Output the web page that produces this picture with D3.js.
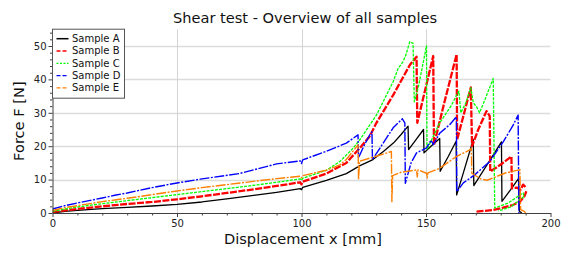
<!DOCTYPE html>
<html>
<head>
<meta charset="utf-8">
<script src="https://cdn.jsdelivr.net/npm/d3@7"></script>
<style>
  body { margin: 0; background: #fff; }
  svg { display: block; font-family: "DejaVu Sans", sans-serif; }
</style>
</head>
<body>
<div id="chart"></div>
<script>
// Data: [displacement mm, force N], null = gap
const sampleA = [
  [0,0],[5,0.5],[10,0.8],[20,1.3],[30,1.7],[40,2.1],[50,2.6],[60,3.3],[70,4.2],[80,5.2],[90,6.2],
  [99.5,7.3],[100,7.0],[100.5,7.7],[110,9.8],[118,11.8],[123.5,14.2],[128.7,16],[133,18.5],[137,21],
  [140,23.5],[142.8,26],[143,19],[146,22],[149,25],[149.2,18],[152,20],[155.5,22.3],[155.7,12.5],
  [159,17],[162.1,21.5],[162.3,5.4],[165,12],[169,22],[169.2,8.2],[175,15],[180.3,21.3],[180.5,3.5],
  [184,7],[187.2,10.4],[187.5,0.5],[188.5,0]
];
const sampleB = [
  [0,0.3],[5,0.8],[10,1.2],[20,2],[30,2.7],[40,3.3],[50,4.1],[60,5],[70,6],[80,7],[90,8.1],
  [99.5,9.2],[100,8.6],[100.5,9.4],[110,11.8],[118,15],[123.5,19.5],[127.4,23],[130.1,27],[136.8,35.3],
  [143.5,44.3],[146.2,46.8],[146.5,27],[152.9,47],[153.2,20.4],[157,32],[162.3,47.5],[162.5,22],
  [165,29],[168,37.6],[168.5,20],[171,25],[174.3,30.5],[175.6,29],[175.8,12.4],[180,14.5],[184.3,16.9],
  [184.5,7.4],[186.5,7.6],[188,7],[189,8.5],[190.3,7.5],
  null,
  [170.3,0.4],[176.9,0.9],[181,1.6],[184.9,2.4],[187.7,3.4],[189.5,5],[190.3,6.5]
];
const sampleC = [
  [0,0.5],[5,1.2],[10,1.8],[20,2.8],[30,3.7],[40,4.6],[50,5.5],[60,6.4],[70,7.3],[80,8.2],[90,9.2],
  [99.5,10.2],[100,9.8],[100.5,10.4],[110,12.8],[115.4,15.4],[120.7,19.4],[123.5,22],[130.1,29.3],
  [136.8,39.3],[138.8,43.3],[140.8,45.3],[142,47.5],[143.5,51.3],[144.8,50.8],[145.3,33.3],[147,38],
  [150.2,50],[150.4,19],[155.5,27],[160,32],[163.2,36.5],[164,30],[166,33],[168,37.5],[169,33],
  [170.3,31.8],[171.5,30],[173.6,33.8],[177,40.3],[177.6,1.5],[183,3],[189,6],[189.5,5],[184,1.8],[179,0.6]
];
const sampleD = [
  [0,1.2],[5,2.2],[10,3],[20,4.5],[25,5.3],[30,6],[40,7.6],[50,9],[60,10.2],[75,11.8],[90,14.7],
  [99.5,15.6],[100,14.8],[100.5,15.9],[110,18.5],[118,20.9],[122.7,23.4],[122.9,16.5],[125,20],
  [127.5,23.5],[128.3,24.3],[128.5,16],[132,20],[136.8,25.5],[140.5,28.2],[141.5,27],[141.7,8.9],
  [144,15],[146.2,18],[150.2,19.5],[152,21.8],[153,20.5],[155.5,23.9],[159.6,26.5],[162.2,28.8],
  [162.4,6.4],[165,9],[169.5,11.4],[175.6,15.4],[181,21.3],[185,26.3],[187,29.3],[187.3,0]
];
const sampleE = [
  [0,0.8],[5,1.6],[10,2.2],[20,3.4],[25,3.9],[30,4.4],[40,5.5],[50,6.6],[60,7.6],[70,8.5],[80,9.4],
  [90,10.3],[99.5,11],[100,10.5],[100.5,11.2],[110,12.8],[115.4,14.4],[118,16],[122.7,20.4],[122.9,9.9],
  [123.3,15.5],[130,17],[136.1,18.4],[136.3,3.4],[136.6,11.2],[140,12.2],[146.2,12.9],[146.5,10.8],
  [146.8,12.9],[150.2,11.9],[150.5,10.5],[150.8,12],[155.5,13.4],[162.2,16.9],[167.6,18.9],[168.2,19.4],
  [168.4,11.9],[172,10.2],[174.5,9.8],[181.6,11.9],[187.7,13],[188,1],[189.5,0.5],[190,0]
];

const sampleNames = ["Sample A", "Sample B", "Sample C", "Sample D", "Sample E"];
const xTicks = [0, 50, 100, 150, 200];
const yTicks = [0, 10, 20, 30, 40, 50];

const series = [sampleA, sampleB, sampleC, sampleD, sampleE];
const styles = [
  { color: "#000000", width: 1.3, dash: null, legendDash: null },
  { color: "#ff0000", width: 2.3, dash: "7,1.5", legendDash: "4,2" },
  { color: "#00ff00", width: 1.3, dash: "3,1.2", legendDash: "2,1.5" },
  { color: "#0000ff", width: 1.4, dash: "10,1.5,2,1.5", legendDash: "4,2" },
  { color: "#ff8000", width: 1.4, dash: "10,1.5,2,1.5", legendDash: "4,2" }
];

const W = 570, H = 254;
const plot = { left: 52.5, right: 550.5, top: 29.3, bottom: 213 };

const svg = d3.select("#chart").append("svg").attr("width", W).attr("height", H);

const x = d3.scaleLinear().domain([0, 200]).range([plot.left, plot.right]);
const y = d3.scaleLinear().domain([0, 55]).range([plot.bottom, plot.top]);

// grid
svg.append("g")
  .selectAll("line")
  .data(yTicks.slice(1))
  .join("line")
  .attr("x1", plot.left).attr("x2", plot.right)
  .attr("y1", d => Math.round(y(d)) + 0.5).attr("y2", d => Math.round(y(d)) + 0.5)
  .style("stroke", "#dcdcdc").style("stroke-width", 1.3);

svg.append("g")
  .selectAll("line")
  .data(xTicks.slice(1, -1))
  .join("line")
  .attr("x1", d => Math.round(x(d)) + 0.5).attr("x2", d => Math.round(x(d)) + 0.5)
  .attr("y1", plot.top).attr("y2", plot.bottom)
  .style("stroke", "#d4d4d4").style("stroke-width", 1);

// curves
svg.append("clipPath").attr("id", "clip")
  .append("rect")
  .attr("x", plot.left).attr("y", plot.top)
  .attr("width", plot.right - plot.left).attr("height", plot.bottom - plot.top);

const line = d3.line()
  .defined(d => d !== null)
  .x(d => x(d[0]))
  .y(d => y(d[1]));

const curves = svg.append("g").attr("clip-path", "url(#clip)");
series.forEach((s, i) => {
  curves.append("path")
    .datum(s)
    .attr("d", line)
    .style("fill", "none")
    .style("stroke", styles[i].color)
    .style("stroke-width", styles[i].width)
    .style("stroke-dasharray", styles[i].dash)
    .style("stroke-linejoin", "round");
});

// axes
const axisColor = "#404040";

const xMinor = d3.range(0, 201, 10).filter(v => v % 50 !== 0);
const yMinor = d3.range(0, 55.1, 2).filter(v => v % 10 !== 0);

const xAxis = svg.append("g")
  .attr("transform", `translate(0,${plot.bottom})`)
  .call(d3.axisBottom(x).tickValues(xTicks).tickSize(4).tickSizeOuter(0));
svg.append("g")
  .attr("transform", `translate(0,${plot.bottom})`)
  .call(d3.axisBottom(x).tickValues(xMinor).tickSize(2.5).tickSizeOuter(0).tickFormat(""))
  .select(".domain").remove();

const yAxis = svg.append("g")
  .attr("transform", `translate(${plot.left},0)`)
  .call(d3.axisLeft(y).tickValues(yTicks).tickSize(4).tickSizeOuter(0));
svg.append("g")
  .attr("transform", `translate(${plot.left},0)`)
  .call(d3.axisLeft(y).tickValues(yMinor).tickSize(2.5).tickSizeOuter(0).tickFormat(""))
  .select(".domain").remove();

svg.selectAll(".domain, .tick line").style("stroke", axisColor);
svg.selectAll(".tick text")
  .style("font-family", "DejaVu Sans")
  .style("font-size", "10px")
  .style("fill", "#222");
xAxis.selectAll(".tick text").attr("y", 7);
yAxis.selectAll(".tick text").attr("x", -6);

// labels
svg.append("text")
  .attr("x", 305)
  .attr("y", 23)
  .style("text-anchor", "middle")
  .style("font-size", "14.6px")
  .style("fill", "#111")
  .text("Shear test - Overview of all samples");

svg.append("text")
  .attr("x", 303)
  .attr("y", 244)
  .style("text-anchor", "middle")
  .style("font-size", "14.6px")
  .style("fill", "#111")
  .text("Displacement x [mm]");

svg.append("text")
  .attr("transform", `translate(24,${(plot.top + plot.bottom) / 2}) rotate(-90)`)
  .style("text-anchor", "middle")
  .style("font-size", "14.6px")
  .style("fill", "#111")
  .text("Force F [N]");

// legend
const legend = svg.append("g").attr("transform", "translate(52,28.7)");
legend.append("rect")
  .attr("x", 0.5).attr("y", 0.5)
  .attr("width", 72).attr("height", 69)
  .style("fill", "#fff")
  .style("stroke", "#555")
  .style("stroke-width", 1);

sampleNames.forEach((name, i) => {
  const ly = 10 + i * 12.3;
  legend.append("line")
    .attr("x1", 4.5).attr("x2", 16.5)
    .attr("y1", ly).attr("y2", ly)
    .style("stroke", styles[i].color)
    .style("stroke-width", i === 0 ? 1.5 : 1.3)
    .style("stroke-dasharray", styles[i].legendDash);
  legend.append("text")
    .attr("x", 20)
    .attr("y", ly)
    .attr("dy", "0.35em")
    .style("font-size", "10px")
    .style("fill", "#111")
    .text(name);
});
</script>
</body>
</html>
